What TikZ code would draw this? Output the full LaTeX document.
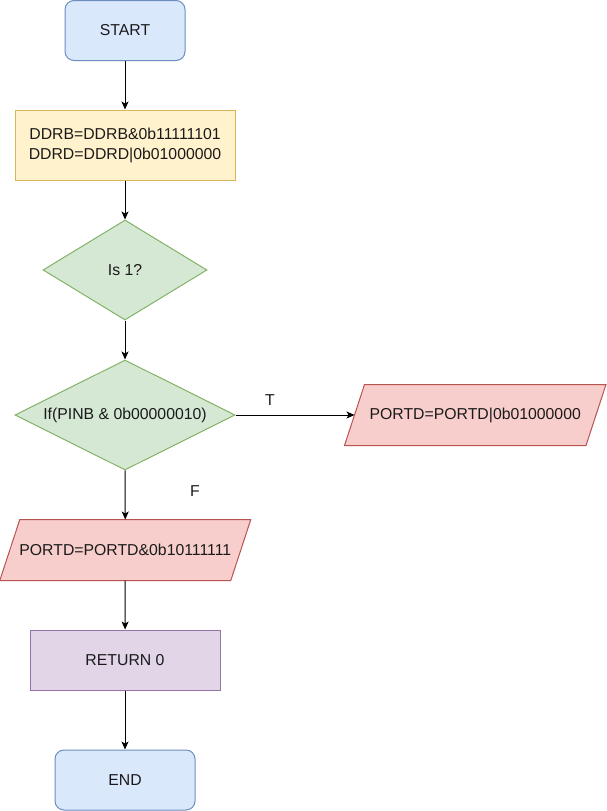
\documentclass[tikz,border=0pt]{standalone}
\usepackage{fontspec}
\setmainfont{Liberation Sans}
\usetikzlibrary{shapes.geometric,arrows.meta,backgrounds}
\definecolor{bluefill}{HTML}{DAE8FC}\definecolor{blueline}{HTML}{6C8EBF}
\definecolor{yellowfill}{HTML}{FFF2CC}\definecolor{yellowline}{HTML}{D6B656}
\definecolor{greenfill}{HTML}{D5E8D4}\definecolor{greenline}{HTML}{82B366}
\definecolor{redfill}{HTML}{F8CECC}\definecolor{redline}{HTML}{B85450}
\definecolor{purplefill}{HTML}{E1D5E7}\definecolor{purpleline}{HTML}{9673A6}
\definecolor{ink}{HTML}{1A1A1A}
\tikzset{
  every node/.style={font=\fontsize{15.8}{20}\selectfont,text=ink,line width=1pt},
  terminal/.style={draw=blueline,fill=bluefill,rounded corners=9pt,minimum height=60pt},
  process/.style={draw=#1line,fill=#1fill,minimum height=60pt,align=center},
  decision/.style={diamond,draw=greenline,fill=greenfill,inner sep=0pt},
  io/.style={minimum height=60pt,inner sep=0pt},
  ioframe/.style={draw=redline,fill=redfill,line width=1pt},
  flow/.style={draw=black,line width=1pt,-{Stealth[length=8pt,width=7pt,inset=2pt]}}
}
% slanted frame round an io node (slant 20 over its height)
\newcommand{\slantframe}[1]{%
  \path[ioframe] ([xshift=-10pt]#1.south west) -- ([xshift=10pt]#1.north west)
    -- ([xshift=10pt]#1.north east) -- ([xshift=-10pt]#1.south east) -- cycle;}
\begin{document}
\begin{tikzpicture}[x=1pt,y=-1pt]
  \useasboundingbox (0,0) rectangle (606,811);
  \node[terminal,minimum width=120pt] (start) at (125,30.5) {START};
  \node[process=yellow,minimum width=220pt,minimum height=70pt] (init) at (125,145) {DDRB=DDRB\&0b11111101\\DDRD=DDRD|0b01000000};
  \node[decision,minimum width=164pt,minimum height=100pt] (isone) at (125,270) {\makebox[0pt]{Is 1?}};
  \node[decision,minimum width=220pt,minimum height=110pt] (test) at (125,415) {\makebox[0pt]{If(PINB \& 0b00000010)}};
  \node[io,minimum width=240.5pt] (porton) at (475.25,415) {PORTD=PORTD|0b01000000};
  \node[io,minimum width=230pt] (portoff) at (125.3,550) {PORTD=PORTD\&0b10111111};
  \node[process=purple,minimum width=190pt] (ret) at (125,660) {RETURN 0};
  \node[terminal,minimum width=140pt] (stop) at (125,780) {END};
  \begin{scope}[on background layer]
    \slantframe{porton}
    \slantframe{portoff}
  \end{scope}
  % labels of the two branches
  \node (tlabel) at (270,400) {T};
  \node (flabel) at (195,491) {F};
  \draw[flow] (start) -- (init);
  \draw[flow] (init) -- (isone);
  \draw[flow] (isone) -- (test);
  \draw[flow] (test) -- (porton);
  \draw[flow] (test) -- (portoff);
  \draw[flow] (portoff) -- (ret);
  \draw[flow] (ret) -- (stop);
\end{tikzpicture}
\end{document}
